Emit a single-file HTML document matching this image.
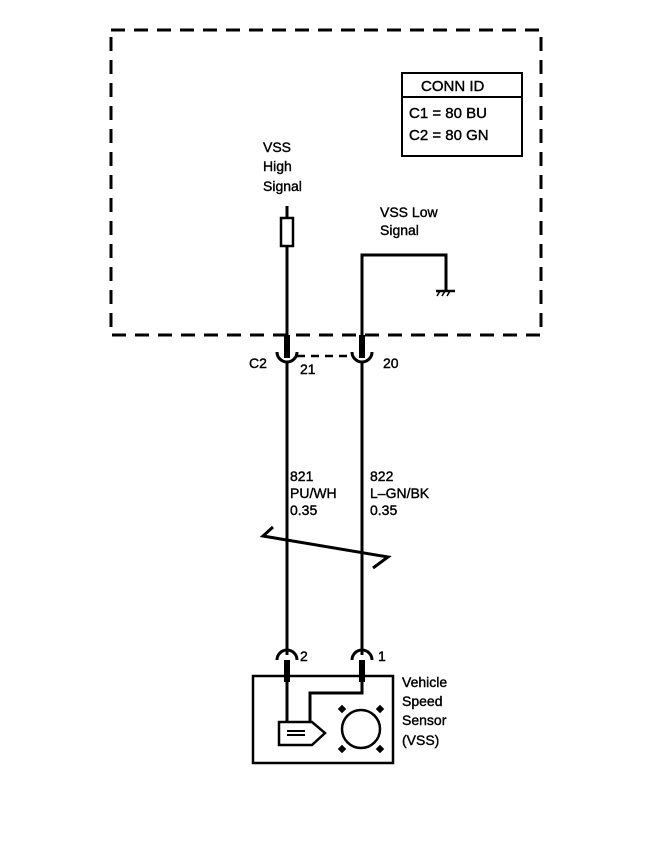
<!DOCTYPE html>
<html><head><style>
html,body{margin:0;padding:0;background:#fff;}
svg{display:block;}
text{font-family:"Liberation Sans",Arial,sans-serif;font-size:14px;fill:#000;stroke:#000;stroke-width:0.4;}
</style></head><body>
<svg width="672" height="862" viewBox="0 0 672 862" xmlns="http://www.w3.org/2000/svg">
<g fill="none" stroke="#000">
<rect x="111" y="30" width="430" height="305" stroke-width="3" stroke-dasharray="14,9"/>
<rect x="402" y="73" width="120" height="83" stroke-width="2"/>
<line x1="402" y1="97" x2="522" y2="97" stroke-width="2"/>
<line x1="287" y1="206" x2="287" y2="218" stroke-width="3"/>
<rect x="281" y="218" width="12" height="28" stroke-width="2.5"/>
<line x1="287" y1="246" x2="287" y2="345" stroke-width="3"/>
<line x1="287" y1="335" x2="287" y2="358" stroke-width="6"/>
<path d="M277,352 A10,10 0 0 0 297,352" stroke-width="3"/>
<line x1="287" y1="362" x2="287" y2="655" stroke-width="3"/>
<polyline points="446,290 446,255 362,255 362,345" stroke-width="3"/>
<line x1="362" y1="335" x2="362" y2="358" stroke-width="6"/>
<path d="M352,352 A10,10 0 0 0 372,352" stroke-width="3"/>
<line x1="362" y1="362" x2="362" y2="655" stroke-width="3"/>
<line x1="297" y1="356" x2="352" y2="356" stroke-width="2.5" stroke-dasharray="8,6"/>
<line x1="436" y1="291" x2="455" y2="291" stroke-width="2.5"/>
<line x1="440" y1="291" x2="437" y2="296" stroke-width="1.5"/>
<line x1="445" y1="291" x2="442" y2="296" stroke-width="1.5"/>
<line x1="450" y1="291" x2="447" y2="296" stroke-width="1.5"/>
<polyline points="273,527 263,536 388,557 373,568" stroke-width="3"/>
<path d="M277,660 A10,10 0 0 1 297,660" stroke-width="3"/>
<path d="M352,660 A10,10 0 0 1 372,660" stroke-width="3"/>
<line x1="287" y1="660" x2="287" y2="682" stroke-width="6"/>
<line x1="362" y1="660" x2="362" y2="682" stroke-width="6"/>
<rect x="253" y="676" width="140" height="87" stroke-width="2.5"/>
<line x1="287" y1="682" x2="287" y2="722" stroke-width="3"/>
<polyline points="362,682 362,693 310,693 310,722" stroke-width="3"/>
<path d="M279,722 L312,722 L325,733 L312,745 L279,745 Z" stroke-width="2.5"/>
<line x1="287" y1="731" x2="305" y2="731" stroke-width="2"/>
<line x1="287" y1="735" x2="305" y2="735" stroke-width="2"/>
<circle cx="361" cy="729" r="19" stroke-width="2.5"/>
</g>
<g fill="#000">
<rect x="339" y="706" width="6" height="6" transform="rotate(45 342 709)"/>
<rect x="377" y="706" width="6" height="6" transform="rotate(45 380 709)"/>
<rect x="339" y="746" width="6" height="6" transform="rotate(45 342 749)"/>
<rect x="377" y="746" width="6" height="6" transform="rotate(45 380 749)"/>
</g>
<text x="421" y="91" style="font-size:15px">CONN ID</text>
<text x="409" y="118" style="font-size:15px">C1 = 80 BU</text>
<text x="409" y="140" style="font-size:15px">C2 = 80 GN</text>
<text x="263" y="152">VSS</text>
<text x="263" y="171">High</text>
<text x="263" y="191">Signal</text>
<text x="380" y="217">VSS Low</text>
<text x="380" y="235">Signal</text>
<text x="249" y="368">C2</text>
<text x="300" y="374">21</text>
<text x="383" y="368">20</text>
<text x="290" y="481">821</text>
<text x="290" y="498">PU/WH</text>
<text x="290" y="515">0.35</text>
<text x="370" y="481">822</text>
<text x="370" y="498">L–GN/BK</text>
<text x="370" y="515">0.35</text>
<text x="300" y="661">2</text>
<text x="378" y="661">1</text>
<text x="402" y="687">Vehicle</text>
<text x="402" y="706">Speed</text>
<text x="402" y="725">Sensor</text>
<text x="402" y="745">(VSS)</text>
</svg>
</body></html>
